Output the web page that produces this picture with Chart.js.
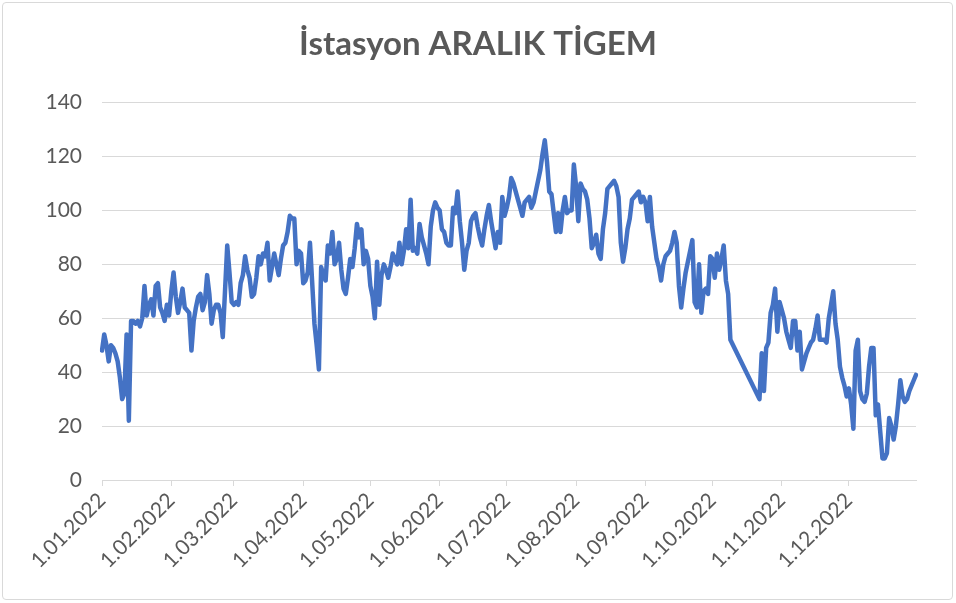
<!DOCTYPE html>
<html lang="tr">
<head>
<meta charset="utf-8">
<title>İstasyon ARALIK TİGEM</title>
<script src="https://cdn.jsdelivr.net/npm/chart.js@4.4.1/dist/chart.umd.min.js"></script>
<style>
    html, body { margin: 0; padding: 0; background: #fff; }
    #wrap   { position: relative; width: 956px; height: 603px; }
    #chart  { position: absolute; left: 0; top: 0; }
    #frame  {
        position: absolute; left: 2px; top: 2px; width: 949px; height: 596px;
        border: 1px solid #d9d9d9; border-radius: 4px; pointer-events: none;
    }
</style>
</head>
<body>
<div id="wrap">
    <canvas id="chart" width="956" height="603"></canvas>
    <div id="frame"></div>
</div>
<script>
// ── Data: daily values for 2022, one array per month (null = no reading) ──────
const jan = [48, 54, 50, 44, 50, 49, 47, 44, 38, 30, 32, 54, 22, 59, 59, 58, 59, 57, 60, 72,
             61, 65, 67, 61, 72, 73, 64, 62, 59, 65, 61];
const feb = [70, 77, 68, 62, 66, 71, 64, 63, 62, 48, 59, 64, 68, 69, 63, 66, 76, 69, 58, 63,
             65, 65, 62, 53, 70, 87, 77, 66];
const mar = [65, 66, 65, 73, 76, 83, 78, 75, 68, 69, 75, 83, 80, 84, 83, 88, 74, 79, 84, 80,
             76, 82, 87, 88, 92, 98, 97, 97, 80, 85, 84];
const apr = [73, 74, 77, 88, 73, 58, 50, 41, 79, 76, 74, 87, 84, 92, 80, 82, 88, 78, 71, 69,
             75, 82, 79, 86, 95, 90, 93, 80, 85, 82];
const may = [72, 68, 60, 81, 65, 76, 80, 78, 75, 79, 84, 82, 80, 88, 80, 85, 93, 86, 104, 85,
             86, 84, 95, 90, 87, 84, 80, 94, 100, 103, 101];
const jun = [100, 93, 92, 88, 87, 87, 101, 99, 107, 96, 88, 78, 85, 88, 96, 98, 99, 94, 90, 87,
             93, 98, 102, 96, 91, 86, 92, 88, 105, 98];
const jul = [101, 105, 112, 110, 107, 104, 101, 98, 103, 104, 105, 101, 103, 107, 111, 115, 121, 126, 118, 107,
             106, 99, 92, 99, 92, 100, 105, 99, 100, 100, 117];
const aug = [109, 96, 110, 108, 107, 104, 97, 86, 88, 91, 84, 82, 93, 99, 108, 109, 110, 111, 109, 105,
             88, 81, 86, 93, 97, 104, 105, 106, 107, 103, 105];
const sep = [103, 96, 105, 94, 88, 82, 79, 74, 80, 83, 84, 85, 88, 92, 88, 72, 64, 71, 77, 81,
             85, 89, 66, 64, 80, 62, 70, 71, 69, 83];
const oct = [82, 75, 84, 78, 82, 87, 74, 69, 52, null, null, null, null, null, null, null, null, null, null, null,
             null, 30, 47, 33, 49, 51, 62, 65, 71, 55, 66];
const nov = [63, 60, 55, 52, 49, 59, 59, 48, 55, 41, 44, 47, 49, 51, 52, 56, 61, 52, 52, 52,
             51, 60, 65, 70, 58, 52, 42, 38, 35, 31];
const dec = [34, 28, 19, 48, 52, 33, 30, 29, 32, 42, 49, 49, 24, 28, 18, 8, 8, 10, 23, 20,
             15, 20, 28, 37, 31, 29, 30, 33, 35, 37, 39];

const months     = [jan, feb, mar, apr, may, jun, jul, aug, sep, oct, nov, dec];
const monthTicks = ['1.01.2022', '1.02.2022', '1.03.2022', '1.04.2022', '1.05.2022', '1.06.2022',
                    '1.07.2022', '1.08.2022', '1.09.2022', '1.10.2022', '1.11.2022', '1.12.2022'];
const yTicks     = [0, 20, 40, 60, 80, 100, 120, 140];
const chartTitle = 'İstasyon ARALIK TİGEM';

(function () {
    'use strict';

    const TEXT  = '#595959';
    const GRID  = '#d9d9d9';
    const LINE  = '#4472C4';
    const FONT  = 'Lato';

    // ── Flatten months into one daily series with d.mm.2022 labels ───────────
    const labels = [];
    const values = [];
    months.forEach((arr, m) => {
        const mm = String(m + 1).padStart(2, '0');
        arr.forEach((v, i) => {
            labels.push(`${i + 1}.${mm}.2022`);
            values.push(v);
        });
    });

    // only month starts get a tick mark + label
    const tickIdx = new Set(labels.map((l, i) => (monthTicks.includes(l) ? i : -1)).filter(i => i >= 0));

    function initChart() {
        const canvas = document.getElementById('chart');

        new Chart(canvas, {
            type: 'line',
            data: {
                labels,
                datasets: [{
                    data           : values,
                    borderColor    : LINE,
                    borderWidth    : 4.5,
                    pointRadius    : 0,
                    tension        : 0,
                    spanGaps       : true,
                    borderJoinStyle: 'round',
                    borderCapStyle : 'round',
                }],
            },
            options: {
                responsive: false,
                animation : false,
                // symmetric side padding keeps the title centred on the page
                layout    : { padding: { left: 40, right: 40, top: 0, bottom: 0 } },
                plugins: {
                    legend : { display: false },
                    tooltip: { enabled: false },
                    title  : {
                        display: true,
                        text   : chartTitle,
                        color  : TEXT,
                        font   : { family: FONT, size: 33, weight: 'bold', lineHeight: 1.2 },
                        padding: { top: 25, bottom: 38 },
                    },
                },
                scales: {
                    x: {
                        type  : 'category',
                        offset: false,
                        grid  : {
                            display        : true,
                            drawOnChartArea: false,
                            drawTicks      : true,
                            tickLength     : 6,
                            tickColor      : GRID,
                        },
                        border: { display: true, color: GRID, width: 1 },
                        ticks : {
                            autoSkip   : false,
                            maxRotation: 45,
                            minRotation: 45,
                            color      : TEXT,
                            padding    : 2,
                            font       : { family: FONT, size: 21 },
                        },
                        afterBuildTicks: s => { s.ticks = s.ticks.filter(t => tickIdx.has(t.value)); },
                        afterFit       : s => { s.height = 123; },
                    },
                    y: {
                        min   : yTicks[0],
                        max   : yTicks[yTicks.length - 1],
                        grid  : { color: GRID, drawTicks: false },
                        border: { display: false },
                        ticks : {
                            stepSize: 20,
                            color   : TEXT,
                            padding : 20,
                            font    : { family: FONT, size: 21 },
                        },
                        afterBuildTicks: s => { s.ticks = yTicks.map(v => ({ value: v })); },
                        afterFit       : s => { s.width = 62; },
                    },
                },
            },
        });
    }

    if (document.readyState === 'loading') {
        document.addEventListener('DOMContentLoaded', initChart);
    } else {
        initChart();
    }
})();
</script>
</body>
</html>
